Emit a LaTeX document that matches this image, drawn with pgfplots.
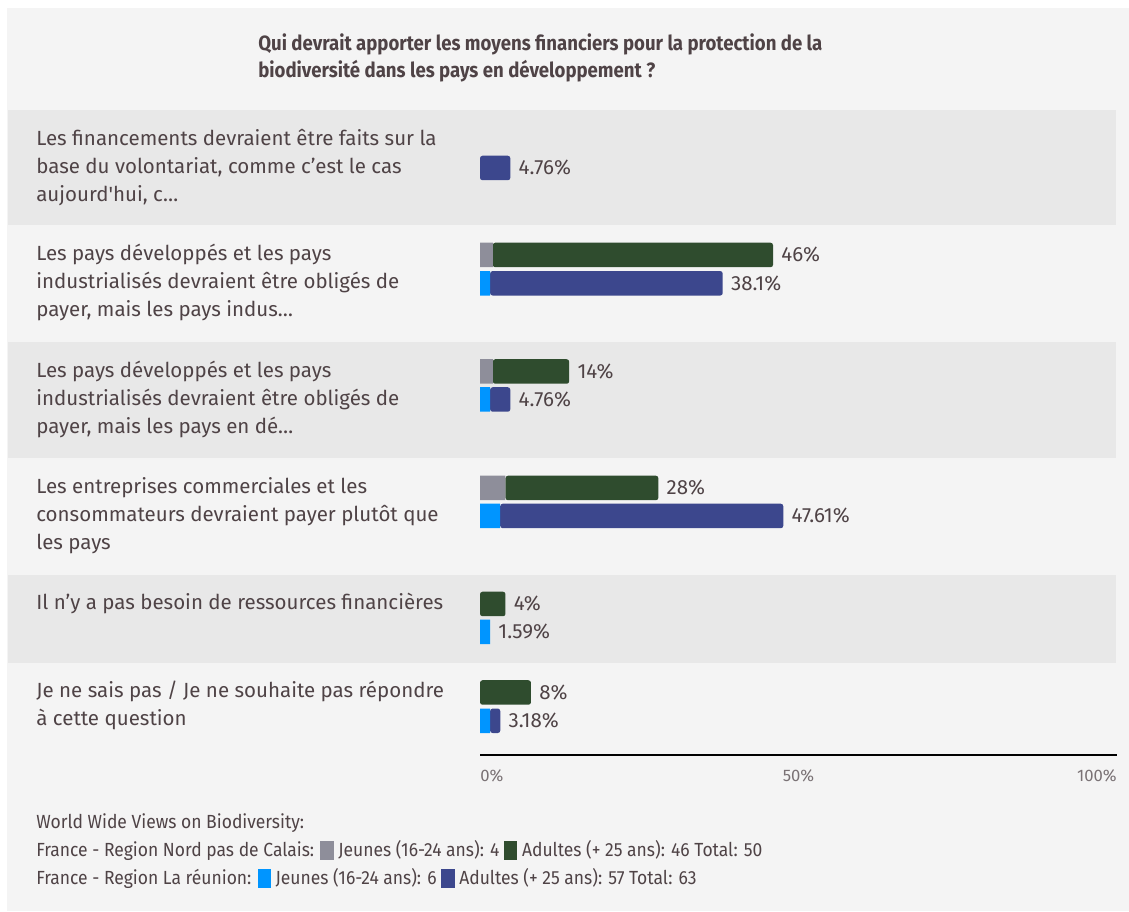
\documentclass[border=0pt]{standalone}
\usepackage{pgfplots}
\pgfplotsset{compat=1.18}
\usepackage{fontspec}
\setmainfont{Fira Sans}
\newfontfamily\condfont[FakeStretch=0.92]{Fira Sans}
\newfontfamily\titlefont[FakeStretch=0.9]{Fira Sans}

\definecolor{panel}{HTML}{F4F4F4}
\definecolor{band}{HTML}{E8E8E8}
\definecolor{txt}{HTML}{4F4346}
\definecolor{ticktxt}{HTML}{7A7275}
\definecolor{jgrey}{HTML}{8E8E9A}
\definecolor{agreen}{HTML}{2F4C2E}
\definecolor{jblue}{HTML}{0095FF}
\definecolor{ablue}{HTML}{3C478D}

\newcommand{\lab}{\fontsize{12.3}{16.8}\selectfont\color{txt}}
\newcommand{\leg}{\condfont\fontsize{11.4}{16}\selectfont\color{txt}}
\newcommand{\ttl}{\titlefont\bfseries\fontsize{12.4}{16}\selectfont\color{txt}}
\newcommand{\tck}{\fontsize{10}{12}\selectfont\color{ticktxt}}
\newcommand{\swatch}[1]{\textcolor{#1}{\rule[-2.6pt]{8pt}{11.4pt}}}

\begin{document}
\begin{tikzpicture}
\pgfplotsset{frame/.style={scale only axis, width=677.4pt, height=546.6pt,
  axis lines=none, ticks=none, ymin=-911, ymax=0, clip=false},
  pct/.style={frame, xmin=-75.353, xmax=101.884}}

% page, bands and text, in pixel coordinates
\begin{axis}[frame, xmin=0, xmax=1129]
  \fill[white] (axis cs:0,0) rectangle (axis cs:1129,-911);
  \fill[panel] (axis cs:7,-8) rectangle (axis cs:1129,-911);
  \fill[band] (axis cs:8,-110) rectangle (axis cs:1116,-225);
  \fill[band] (axis cs:8,-342) rectangle (axis cs:1116,-458);
  \fill[band] (axis cs:8,-575) rectangle (axis cs:1116,-663);

  \node[anchor=base west, inner sep=0pt] at (axis cs:258,-51) {\ttl Qui devrait apporter les moyens financiers pour la protection de la};
  \node[anchor=base west, inner sep=0pt] at (axis cs:258,-78) {\ttl biodiversité dans les pays en développement ?};

  \node[anchor=base west, inner sep=0pt] at (axis cs:36,-146) {\lab Les financements devraient être faits sur la};
  \node[anchor=base west, inner sep=0pt] at (axis cs:36,-174) {\lab base du volontariat, comme c’est le cas};
  \node[anchor=base west, inner sep=0pt] at (axis cs:36,-202) {\lab aujourd\textquotesingle hui, c…};

  \node[anchor=base west, inner sep=0pt] at (axis cs:36,-261) {\lab Les pays développés et les pays};
  \node[anchor=base west, inner sep=0pt] at (axis cs:36,-289) {\lab industrialisés devraient être obligés de};
  \node[anchor=base west, inner sep=0pt] at (axis cs:36,-317) {\lab payer, mais les pays indus…};

  \node[anchor=base west, inner sep=0pt] at (axis cs:36,-378) {\lab Les pays développés et les pays};
  \node[anchor=base west, inner sep=0pt] at (axis cs:36,-406) {\lab industrialisés devraient être obligés de};
  \node[anchor=base west, inner sep=0pt] at (axis cs:36,-434) {\lab payer, mais les pays en dé…};

  \node[anchor=base west, inner sep=0pt] at (axis cs:36,-494) {\lab Les entreprises commerciales et les};
  \node[anchor=base west, inner sep=0pt] at (axis cs:36,-522) {\lab consommateurs devraient payer plutôt que};
  \node[anchor=base west, inner sep=0pt] at (axis cs:36,-550) {\lab les pays};

  \node[anchor=base west, inner sep=0pt] at (axis cs:36,-610) {\lab Il n’y a pas besoin de ressources financières};

  \node[anchor=base west, inner sep=0pt] at (axis cs:36,-698) {\lab Je ne sais pas / Je ne souhaite pas répondre};
  \node[anchor=base west, inner sep=0pt] at (axis cs:36,-726) {\lab à cette question};

  % value axis
  \draw[black, line width=1.2pt] (axis cs:480,-755) -- (axis cs:1117,-755);
  \node[anchor=base west, inner sep=0pt] at (axis cs:480,-782) {\tck 0\%};
  \node[anchor=base, inner sep=0pt] at (axis cs:798.5,-782) {\tck 50\%};
  \node[anchor=base east, inner sep=0pt] at (axis cs:1117,-782) {\tck 100\%};

  % legend
  \node[anchor=base west, inner sep=0pt] at (axis cs:36,-828) {\leg World Wide Views on Biodiversity:};
  \node[anchor=base west, inner sep=0pt] at (axis cs:36,-856) {\leg France - Region Nord pas de Calais: \swatch{jgrey} Jeunes (16-24 ans): 4 \swatch{agreen} Adultes (+ 25 ans): 46 Total: 50};
  \node[anchor=base west, inner sep=0pt] at (axis cs:36,-884) {\leg France - Region La réunion: \swatch{jblue} Jeunes (16-24 ans): 6 \swatch{ablue} Adultes (+ 25 ans): 57 Total: 63};
\end{axis}

% France - Region Nord pas de Calais (percent of 50)
\begin{axis}[pct, xbar stacked, bar width=24.5]
  \addplot[fill=jgrey, draw=none] coordinates {
    (2,-255) (2,-371.5) (4,-488) (0,-604) (0,-692.5)};
  \addplot[fill=agreen, draw=none, rounded corners=1.5pt] coordinates {
    (44,-255) (12,-371.5) (24,-488) (4,-604) (8,-692.5)};
\end{axis}

% France - Region La reunion (percent of 63)
\begin{axis}[pct, xbar stacked, bar width=24.5]
  \addplot[fill=jblue, draw=none] coordinates {
    (0,-168) (1.59,-283.3) (1.59,-399.5) (3.17,-516) (1.59,-632) (1.59,-720.8)};
  \addplot[fill=ablue, draw=none, rounded corners=1.5pt] coordinates {
    (4.76,-168) (36.51,-283.3) (3.17,-399.5) (44.44,-516) (0,-632) (1.59,-720.8)};
\end{axis}

% totals written at the end of each bar
\begin{axis}[pct,
  every node near coord/.append style={anchor=west, inner sep=0pt, xshift=4.8pt,
    font=\fontsize{12.3}{14}\selectfont, text=txt}]
  \addplot[draw=none, mark=none, nodes near coords, point meta=explicit symbolic] coordinates {
    (46,-255) [46\%]
    (14,-371.5) [14\%]
    (28,-488) [28\%]
    (4,-604) [4\%]
    (8,-692.5) [8\%]};
  \addplot[draw=none, mark=none, nodes near coords, point meta=explicit symbolic] coordinates {
    (4.76,-168) [4.76\%]
    (38.1,-283.3) [38.1\%]
    (4.76,-399.5) [4.76\%]
    (47.61,-516) [47.61\%]
    (1.59,-632) [1.59\%]
    (3.18,-720.8) [3.18\%]};
\end{axis}
\end{tikzpicture}
\end{document}
